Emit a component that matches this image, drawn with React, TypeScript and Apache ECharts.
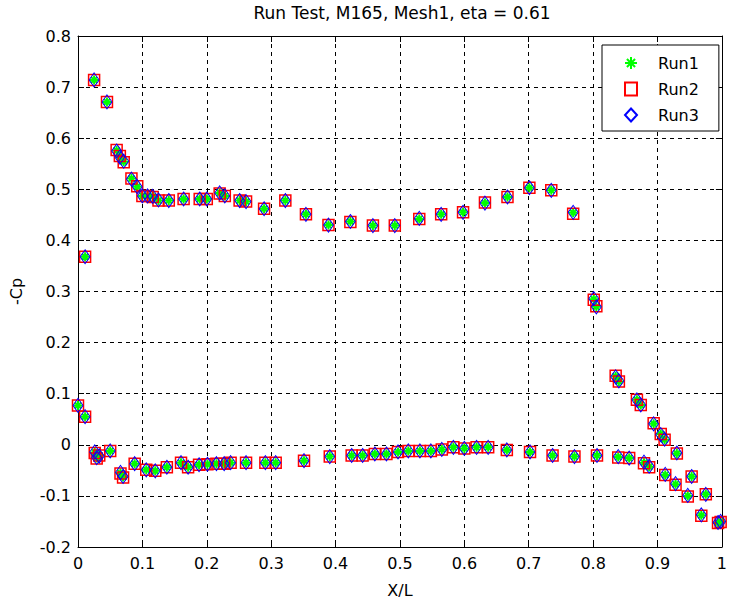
import { useEffect, useRef } from 'react';
import * as echarts from 'echarts';

const titleText = 'Run Test, M165, Mesh1, eta = 0.61';
const seriesNames = ['Run1', 'Run2', 'Run3'];
const xTickLabels = ['0', '0.1', '0.2', '0.3', '0.4', '0.5', '0.6', '0.7', '0.8', '0.9', '1'];
const yTickLabels = ['-0.2', '-0.1', '0', '0.1', '0.2', '0.3', '0.4', '0.5', '0.6', '0.7', '0.8'];

const upperX = [0.011, 0.025, 0.045, 0.060, 0.065, 0.071, 0.083, 0.092, 0.100, 0.108,
  0.116, 0.125, 0.141, 0.164, 0.189, 0.200, 0.220, 0.228, 0.251, 0.261,
  0.289, 0.322, 0.354, 0.389, 0.423, 0.458, 0.492, 0.530, 0.564, 0.598,
  0.632, 0.667, 0.701, 0.735, 0.769, 0.801, 0.805, 0.835, 0.840, 0.868,
  0.874, 0.894, 0.905, 0.911, 0.930, 0.953, 0.975, 0.998];

const lowerX = [0.000, 0.011, 0.026, 0.029, 0.033, 0.050, 0.066, 0.070, 0.088, 0.106,
  0.120, 0.138, 0.160, 0.171, 0.188, 0.201, 0.215, 0.227, 0.237, 0.261,
  0.291, 0.307, 0.351, 0.391, 0.425, 0.442, 0.461, 0.479, 0.497, 0.513,
  0.531, 0.548, 0.565, 0.583, 0.600, 0.619, 0.637, 0.666, 0.702, 0.737,
  0.771, 0.806, 0.839, 0.856, 0.879, 0.887, 0.912, 0.928, 0.947, 0.968,
  0.994];

const run1Upper = [0.368, 0.714, 0.671, 0.576, 0.564, 0.554, 0.521, 0.505, 0.487, 0.487,
  0.486, 0.478, 0.478, 0.481, 0.481, 0.481, 0.493, 0.487, 0.478, 0.476,
  0.462, 0.478, 0.451, 0.430, 0.437, 0.429, 0.429, 0.442, 0.451, 0.455,
  0.473, 0.485, 0.503, 0.498, 0.454, 0.285, 0.270, 0.134, 0.124, 0.088,
  0.078, 0.041, 0.021, 0.010, -0.017, -0.062, -0.097, -0.150];
const run2Upper = [0.368, 0.714, 0.671, 0.577, 0.565, 0.553, 0.521, 0.506, 0.487, 0.487,
  0.485, 0.478, 0.478, 0.481, 0.481, 0.481, 0.492, 0.487, 0.478, 0.476,
  0.462, 0.478, 0.451, 0.430, 0.436, 0.429, 0.429, 0.442, 0.451, 0.455,
  0.474, 0.485, 0.503, 0.498, 0.452, 0.284, 0.271, 0.135, 0.124, 0.088,
  0.078, 0.042, 0.021, 0.010, -0.017, -0.062, -0.097, -0.151];
const run3Upper = [0.368, 0.714, 0.671, 0.575, 0.563, 0.555, 0.520, 0.505, 0.487, 0.487,
  0.486, 0.479, 0.478, 0.481, 0.481, 0.481, 0.493, 0.487, 0.478, 0.476,
  0.462, 0.478, 0.451, 0.430, 0.437, 0.429, 0.429, 0.443, 0.451, 0.455,
  0.473, 0.485, 0.503, 0.498, 0.455, 0.286, 0.270, 0.133, 0.125, 0.088,
  0.078, 0.041, 0.020, 0.011, -0.016, -0.062, -0.097, -0.150];

const run1Lower = [0.077, 0.055, -0.015, -0.026, -0.021, -0.012, -0.055, -0.063, -0.037, -0.049,
  -0.051, -0.044, -0.035, -0.044, -0.039, -0.038, -0.037, -0.037, -0.035, -0.035,
  -0.035, -0.035, -0.031, -0.023, -0.021, -0.021, -0.018, -0.018, -0.014, -0.012,
  -0.012, -0.012, -0.009, -0.005, -0.007, -0.005, -0.005, -0.010, -0.014, -0.021,
  -0.023, -0.021, -0.024, -0.026, -0.035, -0.043, -0.059, -0.077, -0.100, -0.138,
  -0.153];
const run2Lower = [0.077, 0.055, -0.016, -0.027, -0.021, -0.012, -0.056, -0.064, -0.037, -0.049,
  -0.051, -0.044, -0.035, -0.044, -0.039, -0.038, -0.037, -0.037, -0.035, -0.035,
  -0.035, -0.035, -0.031, -0.023, -0.021, -0.021, -0.018, -0.018, -0.014, -0.012,
  -0.012, -0.012, -0.009, -0.005, -0.007, -0.005, -0.005, -0.010, -0.014, -0.021,
  -0.023, -0.021, -0.025, -0.026, -0.036, -0.044, -0.059, -0.078, -0.101, -0.139,
  -0.153];
const run3Lower = [0.077, 0.055, -0.014, -0.025, -0.022, -0.012, -0.054, -0.062, -0.037, -0.049,
  -0.051, -0.044, -0.035, -0.044, -0.039, -0.038, -0.037, -0.037, -0.035, -0.035,
  -0.035, -0.035, -0.031, -0.023, -0.021, -0.021, -0.018, -0.018, -0.014, -0.012,
  -0.012, -0.012, -0.009, -0.005, -0.007, -0.005, -0.005, -0.010, -0.014, -0.021,
  -0.023, -0.021, -0.023, -0.026, -0.034, -0.042, -0.058, -0.076, -0.099, -0.137,
  -0.152];

const FONT = 'DejaVu Sans';
const ASTERISK = 'path://M5,0L5,10M0,5L10,5M1.6,1.6L8.4,8.4M8.4,1.6L1.6,8.4';

function pairs(xs: number[], ys: number[]) {
  return xs.map((x, i) => [x, ys[i]]);
}

function fmt(list: string[], min: number) {
  return (v: number) => list[Math.round((v - min) * 10)] ?? '';
}

export default function App() {
  const ref = useRef<HTMLDivElement>(null);
  useEffect(() => {
    const chart = echarts.init(ref.current!, null, { renderer: 'svg' });
    const axisLine = { show: true, onZero: false, lineStyle: { color: '#000', width: 1 } };
    const axisTick = { show: true, inside: true, length: 6, lineStyle: { color: '#000', width: 1 } };
    const labelStyle = { color: '#000', fontFamily: FONT, fontSize: 16 };
    const splitLine = { show: true, lineStyle: { color: '#000', width: 1, type: [4, 4] as any } };

    chart.setOption({
      animation: false,
      backgroundColor: '#fff',
      grid: { left: 77, top: 36, width: 650, height: 511 },
      graphic: [
        {
          type: 'text', x: 402, y: 13,
          style: { text: titleText, fill: '#000', font: `17px "${FONT}"`, textAlign: 'center', textVerticalAlign: 'middle' },
        },
      ],
      legend: {
        orient: 'vertical', left: 602, top: 45,
        padding: [10, 20, 8, 22], itemWidth: 12, itemHeight: 13, itemGap: 10,
        backgroundColor: '#fff', borderColor: '#000', borderWidth: 1, borderRadius: 0,
        selectedMode: false,
        textStyle: { color: '#000', fontFamily: FONT, fontSize: 16, lineHeight: 14, padding: [0, 0, 0, 16] },
        data: seriesNames,
      },
      xAxis: [
        {
          type: 'value', min: 0, max: 1, interval: 0.1, position: 'bottom',
          axisLine, axisTick, splitLine,
          axisLabel: { ...labelStyle, margin: 8, showMinLabel: true, showMaxLabel: true, formatter: fmt(xTickLabels, 0) },
          name: 'X/L', nameLocation: 'middle', nameGap: 35,
          nameTextStyle: { color: '#000', fontFamily: FONT, fontSize: 16 },
        },
        {
          type: 'value', min: 0, max: 1, interval: 0.1, position: 'top',
          axisLine, axisTick, splitLine: { show: false }, axisLabel: { show: false },
        },
      ],
      yAxis: [
        {
          type: 'value', min: -0.2, max: 0.8, interval: 0.1, position: 'left',
          axisLine, axisTick, splitLine,
          axisLabel: { ...labelStyle, margin: 7, showMinLabel: true, showMaxLabel: true, formatter: fmt(yTickLabels, -0.2) },
          name: '-Cp', nameLocation: 'middle', nameGap: 54,
          nameTextStyle: { color: '#000', fontFamily: FONT, fontSize: 16 },
        },
        {
          type: 'value', min: -0.2, max: 0.8, interval: 0.1, position: 'right',
          axisLine, axisTick, splitLine: { show: false }, axisLabel: { show: false },
        },
      ],
      series: [
        {
          name: seriesNames[0], type: 'scatter', symbol: ASTERISK, symbolSize: 9, z: 2,
          itemStyle: { color: '#00ff00', borderColor: '#00ff00', borderWidth: 2, opacity: 1 },
          data: pairs(upperX, run1Upper).concat(pairs(lowerX, run1Lower)),
        },
        {
          name: seriesNames[1], type: 'scatter', symbol: 'rect', symbolSize: 11, z: 3,
          itemStyle: { color: 'rgba(255,255,255,0)', borderColor: '#ff0000', borderWidth: 1.5, opacity: 1 },
          data: pairs(upperX, run2Upper).concat(pairs(lowerX, run2Lower)),
        },
        {
          name: seriesNames[2], type: 'scatter', symbol: 'diamond', symbolSize: [10, 14], z: 4,
          itemStyle: { color: 'rgba(255,255,255,0)', borderColor: '#0000ff', borderWidth: 1, opacity: 1 },
          data: pairs(upperX, run3Upper).concat(pairs(lowerX, run3Lower)),
        },
      ],
    });
    return () => chart.dispose();
  }, []);
  return <div ref={ref} style={{ position: 'absolute', left: 0, top: 0, width: 730, height: 605, background: '#fff' }} />;
}
